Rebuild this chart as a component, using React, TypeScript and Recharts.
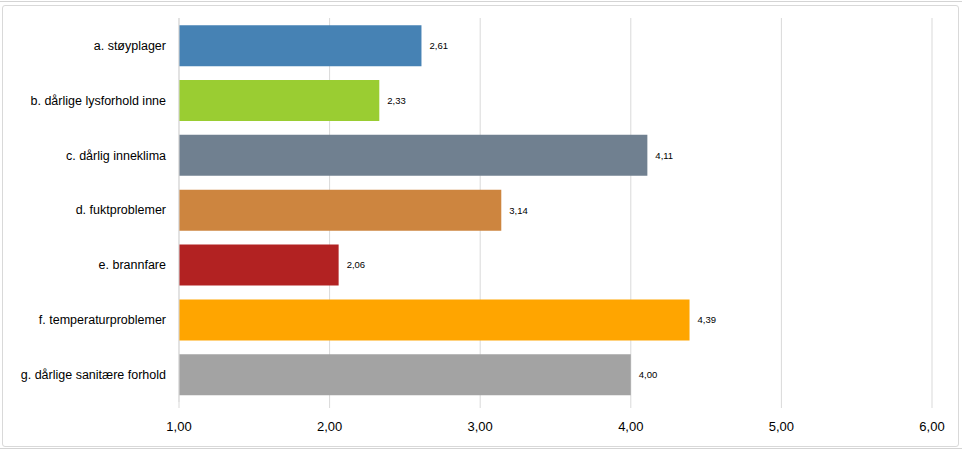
import React from "react";
import { BarChart, Bar, XAxis, YAxis, CartesianGrid, LabelList, Cell } from "recharts";

const categories = [
  "a. støyplager",
  "b. dårlige lysforhold inne",
  "c. dårlig inneklima",
  "d. fuktproblemer",
  "e. brannfare",
  "f. temperaturproblemer",
  "g. dårlige sanitære forhold",
];
const values = [2.61, 2.33, 4.11, 3.14, 2.06, 4.39, 4.0];
const colors = ["#4682B4", "#9ACD32", "#708090", "#CD853F", "#B22222", "#FFA500", "#A3A3A3"];
const xTicks = [1, 2, 3, 4, 5, 6];

const data = categories.map((name, i) => ({ name, value: values[i] }));

const fmt = (v: number) => v.toFixed(2).replace(".", ",");

export default function App() {
  return (
    <div
      style={{
        position: "absolute",
        left: 0,
        top: 0,
        width: 962,
        height: 450,
        background: "#fff",
        fontFamily: "'Liberation Sans', Arial, sans-serif",
        overflow: "hidden",
      }}
    >
      {/* spreadsheet gridlines behind the chart frame */}
      <div style={{ position: "absolute", left: 0, top: 1, width: 962, height: 1, background: "#d4d4d4" }} />
      <div style={{ position: "absolute", left: 0, top: 448, width: 962, height: 1, background: "#d4d4d4" }} />
      <div
        style={{
          position: "absolute",
          left: 2,
          top: 5,
          width: 955,
          height: 440,
          border: "1px solid #d9d9d9",
          borderRadius: 3,
          background: "#fff",
        }}
      />
      <div style={{ position: "absolute", left: 0, top: 0 }}>
        <BarChart
          width={962}
          height={450}
          data={data}
          layout="vertical"
          margin={{ top: 18, right: 30, bottom: 0, left: 0 }}
          barCategoryGap="13%"
        >
          <CartesianGrid horizontal={false} stroke="#d9d9d9" />
          <XAxis
            type="number"
            domain={[1, 6]}
            ticks={xTicks}
            tickFormatter={fmt}
            axisLine={false}
            tickLine={{ stroke: "#d9d9d9" }}
            tickSize={6}
            tickMargin={14}
            tick={{ fontSize: 13, fill: "#000" }}
            height={48}
            interval={0}
          />
          <YAxis
            type="category"
            dataKey="name"
            width={179}
            axisLine={{ stroke: "#d9d9d9" }}
            tickLine={false}
            tickSize={0}
            tickMargin={13}
            tick={{ fontSize: 12.5, fill: "#000" }}
            interval={0}
          />
          <Bar dataKey="value" isAnimationActive={false}>
            {data.map((d, i) => (
              <Cell key={d.name} fill={colors[i]} />
            ))}
            <LabelList
              dataKey="value"
              position="right"
              offset={8}
              formatter={(v: any) => fmt(Number(v))}
              style={{ fontSize: 9.5, fill: "#000" }}
            />
          </Bar>
        </BarChart>
      </div>
    </div>
  );
}
